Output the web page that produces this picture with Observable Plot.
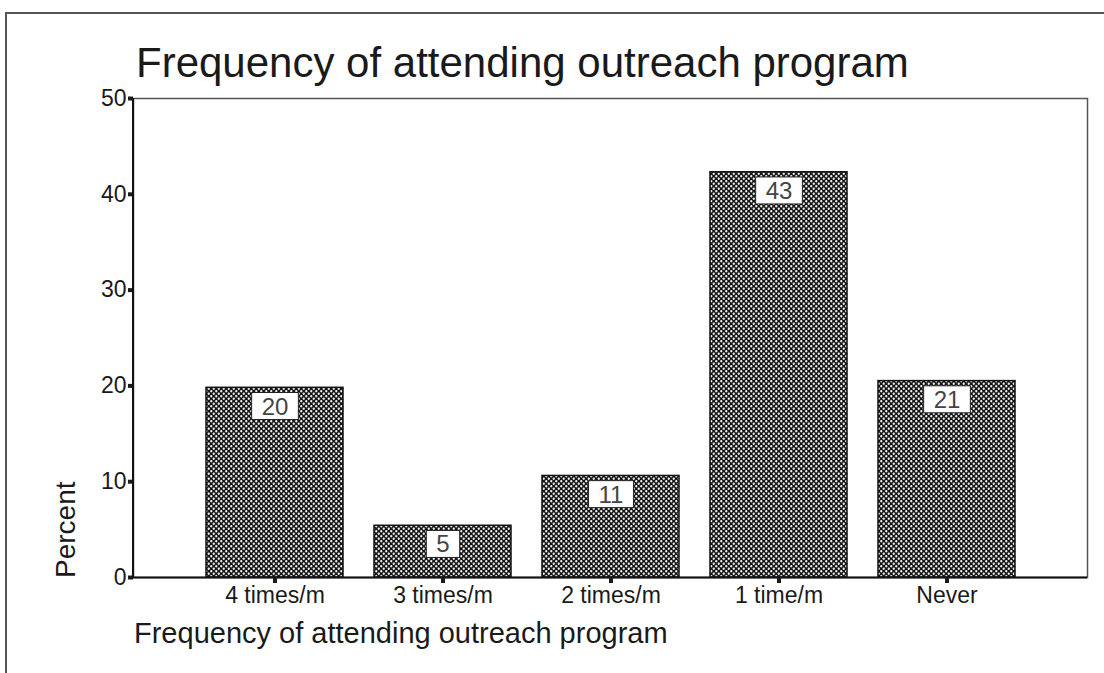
<!DOCTYPE html>
<html>
<head>
<meta charset="utf-8">
<script src="https://cdn.jsdelivr.net/npm/d3@7"></script>
<script src="https://cdn.jsdelivr.net/npm/@observablehq/plot@0.6"></script>
<style>
  body { margin: 0; background: #fff; }
  #wrap { position: relative; width: 1104px; height: 673px; overflow: hidden; background: #fff;
          font-family: "Liberation Sans", Arial, sans-serif; color: #222; }
  #outer { position: absolute; left: 5px; top: 12px; width: 1120px; height: 700px;
           border-top: 2px solid #555; border-left: 2px solid #555; }
  #chart { position: absolute; left: 0; top: 0; }
  #title { position: absolute; left: 136px; top: 39px; font-size: 42px; white-space: nowrap; color: #1a1a1a; }
  #xlabel { position: absolute; left: 134px; top: 617px; font-size: 29px; white-space: nowrap; color: #1a1a1a; }
  #ylabel { position: absolute; left: 50px; top: 578px; font-size: 28px; white-space: nowrap; color: #1a1a1a;
            transform-origin: 0 0; transform: rotate(-90deg); }
  #chart svg g[aria-label="x-axis tick label"] text { font-size: 23px; }
  #chart svg g[aria-label="y-axis tick label"] text { font-size: 23px; }
</style>
</head>
<body>
<div id="wrap">
  <div id="outer"></div>
  <div id="chart"></div>
  <div id="title">Frequency of attending outreach program</div>
  <div id="xlabel">Frequency of attending outreach program</div>
  <div id="ylabel">Percent</div>
</div>
<script>
const categories = ["4 times/m", "3 times/m", "2 times/m", "1 time/m", "Never"];
const percents = [19.8, 5.4, 10.6, 42.3, 20.5];
const valueLabels = ["20", "5", "11", "43", "21"];
const yTicks = [0, 10, 20, 30, 40, 50];

const data = categories.map((c, i) => ({category: c, percent: percents[i], label: valueLabels[i]}));

const chart = Plot.plot({
  width: 1104,
  height: 673,
  marginLeft: 133,
  marginRight: 17,
  marginTop: 98,
  marginBottom: 96,
  style: {fontFamily: '"Liberation Sans", Arial, sans-serif', background: "transparent", color: "#1a1a1a", fontSize: "23px"},
  x: {domain: categories, paddingInner: 0.185, paddingOuter: 0.42, label: null},
  y: {domain: [0, 50], label: null},
  marks: [
    Plot.frame({stroke: "#555", strokeWidth: 1.5}),
    Plot.barY(data, {x: "category", y: "percent", fill: "url(#dots)", stroke: "#111", strokeWidth: 1.5}),
    Plot.ruleY([0], {stroke: "#111", strokeWidth: 2}),
    Plot.axisY({ticks: yTicks, tickSize: 5, tickPadding: 2, strokeWidth: 4, fontSize: 23, label: null}),
    Plot.axisX({tickSize: 6, tickPadding: 3, strokeWidth: 4, fontSize: 23, label: null}),
    Plot.text(data, {x: "category", y: "percent", text: "label", dy: 19, fontSize: 24, fill: "#444", lineAnchor: "middle"})
  ]
});

document.getElementById("chart").appendChild(chart);

const svgNS = "http://www.w3.org/2000/svg";
const defs = document.createElementNS(svgNS, "defs");
defs.innerHTML = `
  <pattern id="dots" width="5" height="5" patternUnits="userSpaceOnUse">
    <rect width="5" height="5" fill="#161616"></rect>
    <circle cx="1.25" cy="1.25" r="1.15" fill="#f2f2f2"></circle>
    <circle cx="3.75" cy="3.75" r="1.15" fill="#f2f2f2"></circle>
  </pattern>`;
chart.insertBefore(defs, chart.firstChild);

// white boxes behind value labels
const labelTexts = chart.querySelectorAll('g[aria-label="text"] text');
labelTexts.forEach(t => {
  const b = t.getBBox();
  const r = document.createElementNS(svgNS, "rect");
  const padX = 10, h = 27;
  r.setAttribute("x", b.x - padX);
  r.setAttribute("y", b.y + b.height / 2 - h / 2);
  r.setAttribute("width", b.width + 2 * padX);
  r.setAttribute("height", h);
  r.setAttribute("fill", "#fff");
  r.setAttribute("stroke", "#222");
  r.setAttribute("stroke-width", "1");
  const tr = t.getAttribute("transform");
  if (tr) r.setAttribute("transform", tr);
  t.parentNode.insertBefore(r, t);
});

// black left axis line
const yScale = chart.scale("y");
const leftLine = document.createElementNS(svgNS, "line");
leftLine.setAttribute("x1", 133); leftLine.setAttribute("x2", 133);
leftLine.setAttribute("y1", yScale.apply(50)); leftLine.setAttribute("y2", yScale.apply(0));
leftLine.setAttribute("stroke", "#111"); leftLine.setAttribute("stroke-width", "2");
chart.appendChild(leftLine);
</script>
</body>
</html>
